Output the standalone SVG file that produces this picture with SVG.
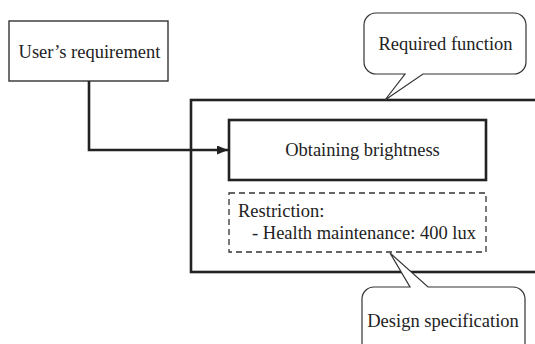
<svg xmlns="http://www.w3.org/2000/svg" width="535" height="344" viewBox="0 0 535 344">
  <style>
    .t { font-family: "Liberation Serif", "Times New Roman", serif; font-size: 18.5px; fill: #222; }
    .thin { fill: #fff; stroke: #333; stroke-width: 1.4; }
    .thick { fill: none; stroke: #222; stroke-width: 2.6; }
    .call { fill: #fff; stroke: #333; stroke-width: 1.2; }
    .dash { fill: none; stroke: #333; stroke-width: 1.3; stroke-dasharray: 6 4; }
    .conn { fill: none; stroke: #222; stroke-width: 2.6; }
  </style>
  <defs>
    <marker id="arrow" markerUnits="userSpaceOnUse" markerWidth="12" markerHeight="10" refX="11" refY="4.5" orient="auto">
      <path d="M0,0 L11,4.5 L0,9 Z" fill="#222"/>
    </marker>
  </defs>
  <rect width="535" height="344" fill="#fff"/>

  <!-- outer function area, open past the right edge -->
  <g id="function-area">
    <rect class="thick" x="191" y="100" width="370" height="172"/>
  </g>

  <g id="user-requirement">
    <rect class="thin" x="9" y="21" width="159" height="60"/>
    <text class="t" x="89.5" y="58" text-anchor="middle">User’s requirement</text>
  </g>

  <g id="obtaining-brightness">
    <rect class="thick" x="229" y="120" width="257" height="60"/>
    <text class="t" x="362.5" y="156" text-anchor="middle">Obtaining brightness</text>
  </g>

  <g id="restriction">
    <rect class="dash" x="229" y="193" width="257" height="59"/>
    <text class="t" x="238" y="217">Restriction:</text>
    <text class="t" x="252" y="239">- Health maintenance: 400 lux</text>
  </g>

  <g id="required-function">
    <path class="call" d="M376,13 H514 A12,12 0 0 1 526,25 V62 A12,12 0 0 1 514,74 H423 L385,100 L405,74 H376 A12,12 0 0 1 364,62 V25 A12,12 0 0 1 376,13 Z"/>
    <text class="t" x="445.5" y="50" text-anchor="middle">Required function</text>
  </g>

  <g id="design-specification">
    <path class="call" d="M374,287 H410 L390,253 L428,287 H513 A12,12 0 0 1 525,299 V360 H362 V299 A12,12 0 0 1 374,287 Z"/>
    <text class="t" x="443" y="327" text-anchor="middle">Design specification</text>
  </g>

  <g id="connectors">
    <path class="conn" d="M89,81 V150 H228" marker-end="url(#arrow)"/>
  </g>
</svg>
